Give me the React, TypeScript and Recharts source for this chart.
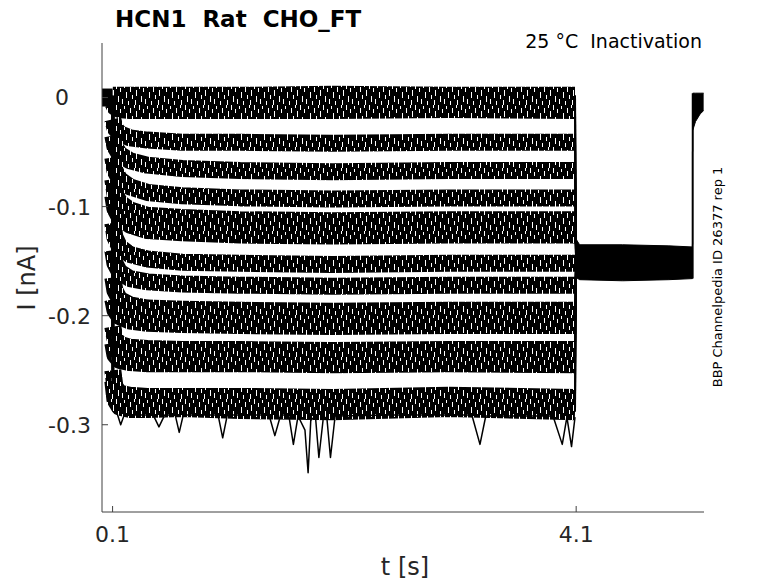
import React from 'react';
import { Line, Area, XAxis, YAxis, ComposedChart } from 'recharts';

// holding level before the step
const PRE_T = [0.0086, 0.05, 0.1];
const PRE_I = [0, 0, 0];

// sample times during the conditioning step
const STEP_T = [0.102, 0.12, 0.16, 0.25, 0.4, 0.7, 1.2, 2.0, 3.0, 4.09];

// current of each sweep at STEP_T (nA)
const TRACES: number[][] = [
  [0.002, 0.002, 0.002, 0.002, 0.002, 0.002, 0.002, 0.003, 0.002, 0.002],
  [-0.005, -0.009, -0.011, -0.012, -0.012, -0.012, -0.012, -0.012, -0.011, -0.012],
  [-0.02, -0.028, -0.033, -0.037, -0.039, -0.041, -0.041, -0.042, -0.041, -0.041],
  [-0.035, -0.045, -0.052, -0.058, -0.062, -0.065, -0.067, -0.068, -0.067, -0.067],
  [-0.055, -0.067, -0.075, -0.082, -0.087, -0.09, -0.092, -0.093, -0.092, -0.092],
  [-0.075, -0.088, -0.096, -0.103, -0.108, -0.11, -0.112, -0.113, -0.112, -0.112],
  [-0.09, -0.102, -0.11, -0.117, -0.122, -0.124, -0.126, -0.127, -0.126, -0.126],
  [-0.115, -0.128, -0.137, -0.144, -0.148, -0.151, -0.152, -0.153, -0.152, -0.152],
  [-0.14, -0.152, -0.16, -0.166, -0.169, -0.171, -0.172, -0.173, -0.172, -0.172],
  [-0.165, -0.177, -0.185, -0.19, -0.193, -0.194, -0.195, -0.196, -0.195, -0.195],
  [-0.185, -0.195, -0.201, -0.205, -0.207, -0.208, -0.209, -0.21, -0.209, -0.209],
  [-0.21, -0.221, -0.226, -0.229, -0.23, -0.231, -0.231, -0.232, -0.231, -0.231],
  [-0.225, -0.236, -0.241, -0.243, -0.244, -0.244, -0.244, -0.245, -0.244, -0.245],
  [-0.25, -0.265, -0.271, -0.273, -0.274, -0.274, -0.274, -0.275, -0.273, -0.275],
  [-0.26, -0.277, -0.284, -0.286, -0.286, -0.285, -0.287, -0.288, -0.285, -0.288],
];

// lower edge of the deepest sweep, with its largest noise spikes
const SPIKE_T = [0.14, 0.17, 0.2, 0.45, 0.5, 0.55, 0.64, 0.675, 0.71, 1.01, 1.05, 1.09, 1.45, 1.5, 1.55,
  1.62, 1.66, 1.7, 1.76, 1.787, 1.81, 1.85, 1.88, 1.92, 1.95, 1.98, 2.02, 2.5, 3.0, 3.2, 3.27, 3.32, 3.9,
  3.98, 4.02, 4.06, 4.09];
const SPIKE_I = [-0.29, -0.3, -0.291, -0.291, -0.302, -0.291, -0.291, -0.307, -0.291, -0.291, -0.312, -0.291,
  -0.291, -0.31, -0.291, -0.291, -0.318, -0.292, -0.305, -0.344, -0.296, -0.292, -0.33, -0.292, -0.295, -0.33,
  -0.292, -0.291, -0.291, -0.291, -0.318, -0.292, -0.292, -0.318, -0.293, -0.32, -0.293];

// common test pulse after the step: noise envelope (nA)
const TAIL_T = [4.1, 4.13, 4.5, 4.9, 5.105];
const TAIL_LO = [-0.165, -0.167, -0.168, -0.167, -0.166];
const TAIL_HI = [-0.13, -0.135, -0.135, -0.136, -0.137];

// back to holding: noise envelope (nA)
const POST_T = [5.106, 5.13, 5.17, 5.2];
const POST_LO = [-0.03, -0.022, -0.015, -0.012];
const POST_HI = [0.004, 0.004, 0.004, 0.004];

const X_TICKS = [0.1, 4.1];
const Y_TICKS = [-0.3, -0.2, -0.1, 0];

const FONT = '"DejaVu Sans", sans-serif';
const AXIS = '#404040';
const TXT = '#262626';

// white slivers inside the noise bands: [x, y, height]
const SLIVERS = [
  [1, 0, 5], [3, 12, 6], [5, 4, 4], [7, 15, 5], [9, 1, 3], [11, 8, 6],
  [13, 17, 4], [15, 3, 5], [17, 11, 4], [19, 0, 3], [21, 6, 6], [20, 16, 5],
];

const rowMap = new Map<number, any>();
const put = (t: number, key: string, v: any) => {
  const r = rowMap.get(t) ?? { t };
  r[key] = v;
  rowMap.set(t, r);
};
PRE_T.forEach((t, j) => put(t, 'pre', PRE_I[j]));
TRACES.forEach((tr, i) => {
  STEP_T.forEach((t, j) => put(t, `k${i}`, tr[j]));
  put(PRE_T[PRE_T.length - 1], `e${i}`, PRE_I[PRE_I.length - 1]);
  put(STEP_T[0], `e${i}`, tr[0]);
  put(STEP_T[STEP_T.length - 1], `x${i}`, tr[tr.length - 1]);
  put(TAIL_T[0], `x${i}`, (TAIL_LO[0] + TAIL_HI[0]) / 2);
});
SPIKE_T.forEach((t, j) => put(t, 'spike', SPIKE_I[j]));
TAIL_T.forEach((t, j) => put(t, 'tail', [TAIL_LO[j], TAIL_HI[j]]));
put(TAIL_T[TAIL_T.length - 1], 'jump', TAIL_LO[TAIL_LO.length - 1]);
put(POST_T[0], 'jump', POST_HI[0]);
POST_T.forEach((t, j) => put(t, 'post', [POST_LO[j], POST_HI[j]]));
const data = Array.from(rowMap.values()).sort((a, b) => a.t - b.t);

const YTick = (p: any) => {
  const { x, y, payload } = p;
  const v = payload.value;
  return (
    <g>
      <line x1={x} x2={x + 6} y1={y} y2={y} stroke={AXIS} />
      <text x={v === 0 ? x - 33 : x - 11} y={y} dy="0.36em" textAnchor="end" fontSize={22} fill={TXT} fontFamily={FONT}>
        {String(v)}
      </text>
    </g>
  );
};

const XTick = (p: any) => {
  const { x, y, payload } = p;
  return (
    <g>
      <line x1={x} x2={x} y1={y} y2={y - 6} stroke={AXIS} />
      <text x={x} y={y + 30} textAnchor="middle" fontSize={22} fill={TXT} fontFamily={FONT}>
        {String(payload.value)}
      </text>
    </g>
  );
};

const line = { dot: false, isAnimationActive: false, strokeLinejoin: 'round' as const, connectNulls: true, activeDot: false };

export default function App() {
  return (
    <div style={{ position: 'absolute', left: 0, top: 0, width: 778, height: 583, background: '#fff' }}>
      <svg width={0} height={0} style={{ position: 'absolute' }}>
        <defs>
          <pattern id="hair" patternUnits="userSpaceOnUse" width={23} height={21}>
            <rect width={23} height={21} fill="#000" />
            {SLIVERS.map(([x, y, h], i) => (
              <rect key={i} x={x} y={y} width={1} height={h} fill="#fff" />
            ))}
          </pattern>
        </defs>
      </svg>
      <ComposedChart width={778} height={583} data={data} margin={{ top: 43, right: 74, bottom: 41, left: 42 }}>
        <XAxis
          type="number"
          dataKey="t"
          domain={[0.0086, 5.203]}
          ticks={X_TICKS}
          allowDataOverflow
          axisLine={{ stroke: AXIS }}
          tickLine={false}
          tickSize={0}
          tickMargin={0}
          tick={<XTick />}
          height={30}
        />
        <YAxis
          type="number"
          domain={[-0.38, 0.05]}
          ticks={Y_TICKS}
          allowDataOverflow
          axisLine={{ stroke: AXIS }}
          tickLine={false}
          tickSize={0}
          tickMargin={0}
          tick={<YTick />}
          width={60}
        />
        <Line dataKey="pre" {...line} stroke="#000" strokeWidth={18} />
        {TRACES.map((_, i) => (
          <Line key={`k${i}`} dataKey={`k${i}`} {...line} stroke="url(#hair)" strokeWidth={17} />
        ))}
        {TRACES.map((_, i) => (
          <Line key={`e${i}`} dataKey={`e${i}`} {...line} stroke="#000" strokeWidth={3} />
        ))}
        {TRACES.map((_, i) => (
          <Line key={`x${i}`} dataKey={`x${i}`} {...line} stroke="#000" strokeWidth={2} />
        ))}
        <Line dataKey="spike" {...line} stroke="#000" strokeWidth={1.5} />
        <Area dataKey="tail" type="linear" isAnimationActive={false} stroke="#000" strokeWidth={1} fill="#000" fillOpacity={1} connectNulls activeDot={false} />
        <Line dataKey="jump" {...line} stroke="#000" strokeWidth={2} />
        <Area dataKey="post" type="linear" isAnimationActive={false} stroke="#000" strokeWidth={1} fill="#000" fillOpacity={1} connectNulls activeDot={false} />
      </ComposedChart>
      <svg width={778} height={583} style={{ position: 'absolute', left: 0, top: 0, pointerEvents: 'none' }}>
        <text x={115} y={27} fontSize={23} fontWeight="bold" fontFamily={FONT} fill="#000">
          HCN1{'\u00a0\u00a0'}Rat{'\u00a0\u00a0'}CHO_FT
        </text>
        <text x={702} y={48} fontSize={19} textAnchor="end" fontFamily={FONT} fill="#000">
          25 °C{'\u00a0\u00a0'}Inactivation
        </text>
        <text x={405} y={567} fontSize={24} textAnchor="middle" dominantBaseline="central" fontFamily={FONT} fill={TXT}>
          t [s]
        </text>
        <text
          transform="translate(27,278) rotate(-90)"
          fontSize={24}
          textAnchor="middle"
          dominantBaseline="central"
          fontFamily={FONT}
          fill={TXT}
        >
          I [nA]
        </text>
        <text
          transform="translate(717,277) rotate(-90)"
          fontSize={13}
          textAnchor="middle"
          dominantBaseline="central"
          fontFamily={FONT}
          fill="#000"
        >
          BBP Channelpedia ID 26377 rep 1
        </text>
      </svg>
    </div>
  );
}
